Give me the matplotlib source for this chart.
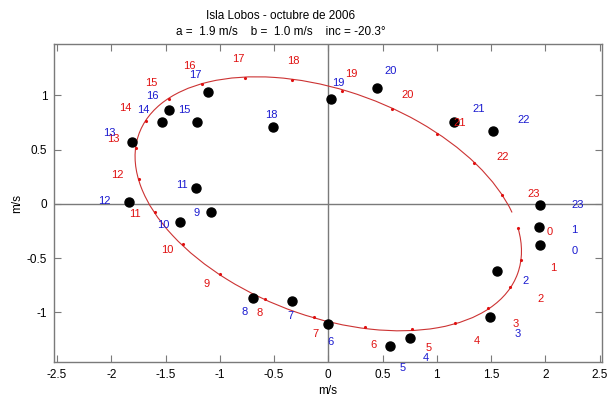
import matplotlib
matplotlib.use("Agg")
import matplotlib.pyplot as plt
from matplotlib.patches import Arc

plt.rcParams['font.family'] = ['Liberation Sans', 'DejaVu Sans']

title_lines = ["Isla Lobos - octubre de 2006",
               "a =  1.9 m/s    b =  1.0 m/s    inc = -20.3\u00b0"]

hours = list(range(24))

# Fitted ellipse as drawn: semi-axes (m/s), inclination (deg)
ell_a = 1.86
ell_b = 1.04
ell_inc = -20.4
# drawn arc runs from just past hour 23 round to hour 0 (angles relative to major axis, deg)
arc_start = 17.7
arc_stop = 13.0

# Fitted ellipse, hourly positions (m/s)
ell_x = [1.749, 1.777, 1.679, 1.473, 1.169, 0.776, 0.336, -0.127, -0.579, -0.997,
         -1.341, -1.596, -1.744, -1.771, -1.679, -1.467, -1.166, -0.770, -0.330,
         0.131, 0.588, 1.006, 1.344, 1.599]
ell_y = [-0.226, -0.515, -0.764, -0.963, -1.096, -1.154, -1.135, -1.041, -0.875,
         -0.644, -0.371, -0.078, 0.231, 0.517, 0.766, 0.966, 1.101, 1.159, 1.141,
         1.042, 0.874, 0.646, 0.376, 0.078]

# Observed hourly currents (m/s)
obs_x = [1.952, 1.943, 1.553, 1.495, 0.754, 0.573, -0.007, -0.330, -0.693, -1.083,
         -1.369, -1.221, -1.841, -1.808, -1.532, -1.206, -1.464, -1.113, -0.505,
         0.029, 0.453, 1.157, 1.519, 1.952]
obs_y = [-0.377, -0.211, -0.622, -1.041, -1.237, -1.313, -1.108, -0.896, -0.871,
         -0.076, -0.168, 0.148, 0.019, 0.567, 0.754, 0.751, 0.867, 1.030, 0.711,
         0.966, 1.065, 0.757, 0.671, -0.011]

xticks = [-2.5, -2, -1.5, -1, -0.5, 0, 0.5, 1, 1.5, 2, 2.5]
xticklabels = ["-2.5", "-2", "-1.5", "-1", "-0.5", "0", "0.5", "1", "1.5", "2", "2.5"]
yticks = [-1, -0.5, 0, 0.5, 1]
yticklabels = ["-1", "-0.5", "0", "0.5", "1"]

label_scale = 1.15
red = '#e01010'
blue = '#1a1ad0'
curve_col = '#cc3333'
gray = '#7a7a7a'

fig = plt.figure(figsize=(6.10, 3.99), dpi=100)
ax = fig.add_axes([54.3/610, 1 - 362.3/399, (601.7-54.3)/610, (362.3-44)/399])
ax.set_xlim(-2.525, 2.52)
ax.set_ylim(-1.461, 1.473)

ax.axhline(0, color=gray, lw=1.0, zorder=1)
ax.axvline(0, color=gray, lw=1.0, zorder=1)

arc = Arc((0, 0), 2*ell_a, 2*ell_b, angle=ell_inc, theta1=arc_start, theta2=arc_stop,
          color=curve_col, lw=0.8, zorder=2)
ax.add_patch(arc)
ax.plot(ell_x, ell_y, ls='none', marker='.', ms=2.5, color=red, zorder=3)

ax.plot(obs_x, obs_y, ls='none', marker='o', ms=6.5, color='black', zorder=4)

for h, x, y in zip(hours, ell_x, ell_y):
    ax.text(x*label_scale, y*label_scale, str(h), color=red, fontsize=8,
            ha='left', va='center', zorder=5)
for h, x, y in zip(hours, obs_x, obs_y):
    ax.text(x*label_scale, y*label_scale, str(h), color=blue, fontsize=8,
            ha='left', va='center', zorder=5)

ax.set_xticks(xticks)
ax.set_xticklabels(xticklabels)
ax.set_yticks(yticks)
ax.set_yticklabels(yticklabels)
ax.tick_params(direction='in', length=5, width=0.8, color=gray, labelsize=8.5,
               top=True, right=True, labeltop=False, labelright=False, pad=5)
for s in ax.spines.values():
    s.set_color(gray)
    s.set_linewidth(1.0)

ax.set_xlabel("m/s", fontsize=8.5, labelpad=3)
ax.set_ylabel("m/s", fontsize=8.5, labelpad=3)

fig.text(281/610, 1 - 16/399, title_lines[0], ha='center', va='center', fontsize=8.5)
fig.text(281/610, 1 - 32/399, title_lines[1], ha='center', va='center', fontsize=8.5)

fig.savefig("out.png", dpi=100)
